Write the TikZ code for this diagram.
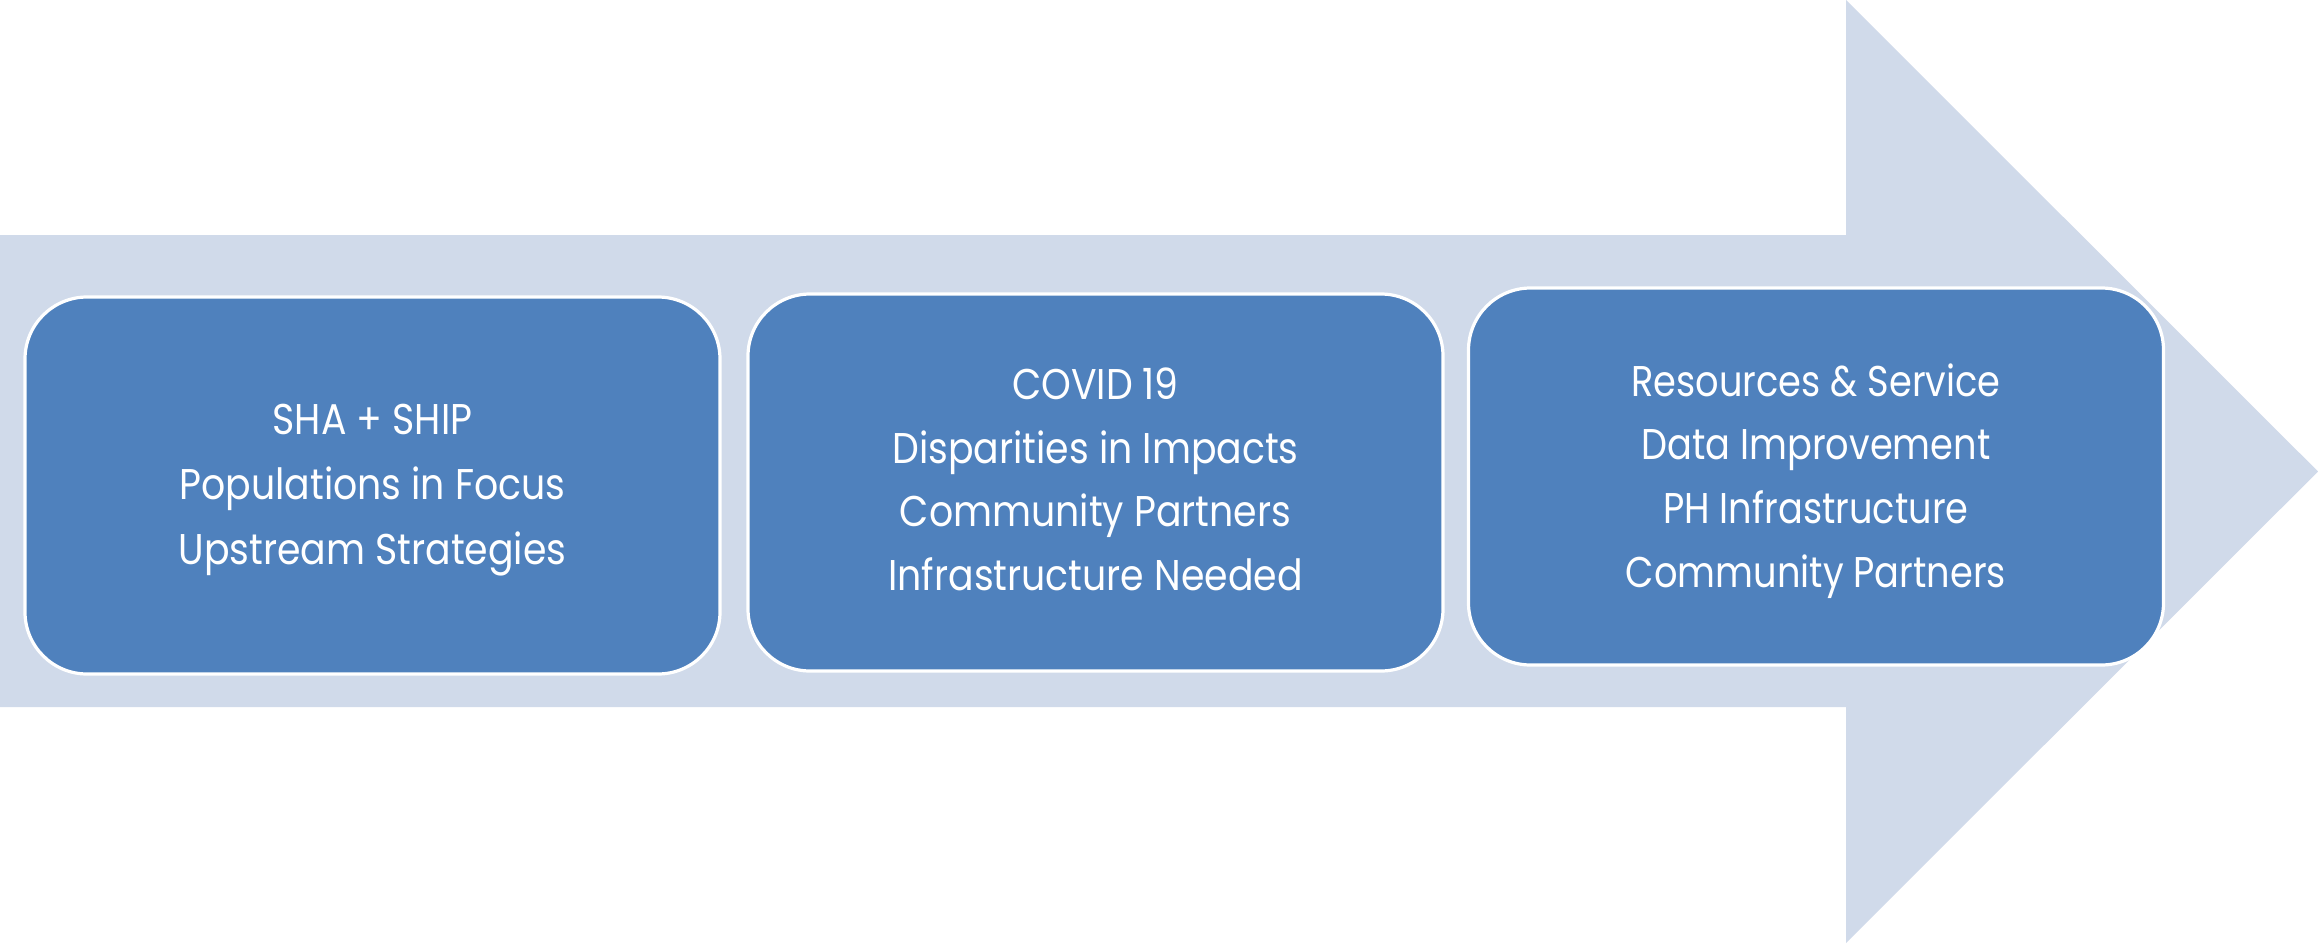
\documentclass[tikz,border=0pt]{standalone}
\usepackage{fontspec}
\setmainfont{Poppins}
\newfontfamily\narrowfont[FakeStretch=0.88]{Poppins}
\newfontfamily\widefont[FakeStretch=0.855]{Poppins}
\definecolor{shaftblue}{RGB}{208,218,234}
\definecolor{boxblue}{RGB}{79,129,189}
\begin{document}
\begin{tikzpicture}[x=0.5pt,y=-0.5pt,
  stage/.style={draw=white, line width=1.6pt, fill=boxblue, rounded corners=31pt,
    minimum width=347.5pt, minimum height=188.5pt, inner sep=0pt},
  stagetext/.style={inner sep=0pt, align=center, text=white}]
  \useasboundingbox[fill=white] (0,0) rectangle (2318,943);
  % the broad arrow running behind the stages
  \fill[shaftblue] (0,235) -- (1846,235) -- (1846,0) -- (2318,471.5)
    -- (1846,943) -- (1846,707) -- (0,707) -- cycle;
  % the three stages
  \node[stage] (s1) at (372.5,485.5) {};
  \node[stage] (s2) at (1095.5,482.5) {};
  \node[stage] (s3) at (1816,476.5) {};
  % their texts
  \node[stagetext, font=\narrowfont\fontsize{21.5}{32.5}\selectfont, yshift=-2.2pt] (t1) at (s1)
    {SHA + SHIP\\Populations in Focus\\Upstream Strategies};
  \node[stagetext, font=\narrowfont\fontsize{21.5}{31.8}\selectfont, yshift=1.5pt] (t2) at (s2)
    {COVID 19\\Disparities in Impacts\\Community Partners\\Infrastructure Needed};
  \node[stagetext, font=\widefont\fontsize{21.5}{31.8}\selectfont, yshift=-2.2pt] (t3) at (s3)
    {Resources \& Service\\Data Improvement\\PH Infrastructure\\Community Partners};
\end{tikzpicture}
\end{document}
